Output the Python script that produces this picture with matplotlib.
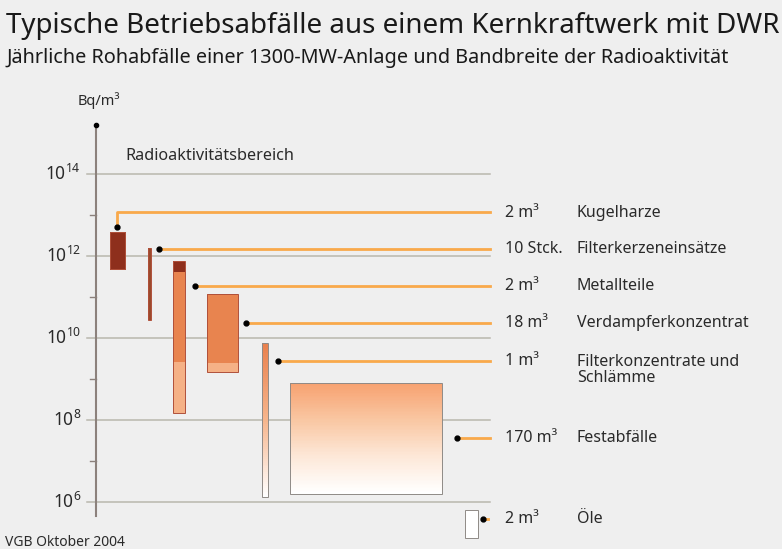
import matplotlib.pyplot as plt
import numpy as np
from matplotlib.colors import LinearSegmentedColormap

plt.rcParams['font.family'] = ['Noto Sans', 'DejaVu Sans']
plt.rcParams['mathtext.default'] = 'regular'

# Daten: Abfallart, jaehrliche Menge, Bandbreite der Radioaktivitaet (Bq/m3)
names = ['Kugelharze', 'Filterkerzeneinsätze', 'Metallteile', 'Verdampferkonzentrat',
         'Filterkonzentrate und\nSchlämme', 'Festabfälle', 'Öle']
amounts = ['2 m³', '10 Stck.', '2 m³', '18 m³', '1 m³', '170 m³', '2 m³']
act_high = [3.9e12, 1.6e12, 7.5e11, 1.2e11, 7.5e9, 7.9e8, 6.4e5]
act_low = [4.8e11, 2.8e10, 1.5e8, 1.5e9, 1.3e6, 1.6e6, 1.3e5]
# Stufen innerhalb der Balken (Metallteile, Verdampferkonzentrat)
metall_steps = [7.5e11, 4.1e11, 2.6e9, 1.5e8]
verdampf_steps = [1.2e11, 2.5e9, 1.5e9]
yticks = [1e6, 1e8, 1e10, 1e12, 1e14]
ytick_labels = ['$10^6$', '$10^8$', '$10^{10}$', '$10^{12}$', '$10^{14}$']

bg = '#efefef'
dark = '#8e2f1c'
orange = '#e8844f'
light = '#f5b186'
lead = '#f9a94b'
grid = '#b9b7ad'
axc = '#8c817c'
txt = '#2a2a2a'

fig = plt.figure(figsize=(7.82, 5.49), dpi=100, facecolor=bg)
ax = fig.add_axes([0, 0, 1, 1])
ax.set_facecolor(bg)
ax.set_yscale('log')
ax.set_xlim(0, 782)
ax.set_ylim(10 ** 4.854, 10 ** 18.244)
ax.axis('off')


def py(p):
    # Pixelzeile -> Wert auf der log-Achse (nur fuer Layout)
    return 10 ** (14 - (p - 174) / 41.0)


# Gitter und Achse
for t, lab in zip(yticks, ytick_labels):
    ax.plot([87, 490], [t, t], color=grid, lw=1.1, zorder=1)
    ax.text(81, t, lab, ha='right', va='center', fontsize=12.5, color=txt)
for t in yticks[:-1]:
    ax.plot([90, 96], [t * 10, t * 10], color=axc, lw=1, zorder=2)
ax.plot([96, 96], [py(516), py(125)], color=axc, lw=1.5, zorder=2)
ax.plot(96, py(125), 'o', color='black', ms=3, zorder=3)
ax.text(78, py(101), 'Bq/m³', fontsize=10.5, color=txt, va='center')
ax.text(125, py(156), 'Radioaktivitätsbereich', fontsize=11.7, color=txt, va='center')

# Layout der Balken (x links, Breite in Pixel)
lefts = [110, 147.5, 173, 207, 262, 290, 465]
widths = [15, 3, 12, 31, 6, 152, 13]
rows = [213, 249, 286, 323, 361, 438, 519]
dots_x = [117, 159, 195, 246, 278, 457, 483]


def gradient_bar(x, w, hi, lo, colors, n=80):
    cmap = LinearSegmentedColormap.from_list('g', colors)
    edges = np.logspace(np.log10(hi), np.log10(lo), n + 1)
    for i in range(n):
        ax.bar(x, edges[i] - edges[i + 1], bottom=edges[i + 1], width=w,
               align='edge', color=cmap(i / (n - 1)), lw=0, zorder=3)


# Kugelharze, Filterkerzeneinsaetze
ax.bar(lefts[0], act_high[0] - act_low[0], bottom=act_low[0], width=widths[0],
       align='edge', color=dark, edgecolor='#7a2616', lw=0.6, zorder=3)
ax.bar(lefts[1], act_high[1] - act_low[1], bottom=act_low[1], width=widths[1],
       align='edge', color='#9b4a2c', lw=0, zorder=3)
# Metallteile
for hi, lo, c in zip(metall_steps[:-1], metall_steps[1:], [dark, orange, light]):
    ax.bar(lefts[2], hi - lo, bottom=lo, width=widths[2], align='edge', color=c, lw=0, zorder=3)
# Verdampferkonzentrat
for hi, lo, c in zip(verdampf_steps[:-1], verdampf_steps[1:], [orange, light]):
    ax.bar(lefts[3], hi - lo, bottom=lo, width=widths[3], align='edge', color=c, lw=0, zorder=3)
# Filterkonzentrate, Festabfaelle
gradient_bar(lefts[4], widths[4], act_high[4], act_low[4], ['#e9814e', '#f6b58c', '#ffffff'])
gradient_bar(lefts[5], widths[5], act_high[5], act_low[5], ['#f7a271', '#f9c7a3', '#fde8d8', '#ffffff'])
# Oele
ax.bar(lefts[6], act_high[6] - act_low[6], bottom=act_low[6], width=widths[6],
       align='edge', color='white', lw=0, zorder=3)
# Umrandungen
for i in range(7):
    ec = '#b0503a' if i < 4 else '#8f8a86'
    ax.bar(lefts[i], act_high[i] - act_low[i], bottom=act_low[i], width=widths[i],
           align='edge', fill=False, edgecolor=ec, lw=0.7, zorder=4)

# Fuehrungslinien, Punkte und Beschriftungen
ax.plot([117, 117, 490], [py(227), py(212), py(212)], color=lead, lw=2, zorder=2)
ax.plot(117, py(227), 'o', color='black', ms=3.5, zorder=5)
for i in range(1, 7):
    y = py(rows[i])
    end = 488 if i == 6 else 490
    ax.plot([dots_x[i], end], [y, y], color=lead, lw=2, zorder=2)
    ax.plot(dots_x[i], y, 'o', color='black', ms=3.5, zorder=5)
for i in range(7):
    y = py(rows[i])
    ax.text(505, y, amounts[i], fontsize=11.5, color=txt, va='center')
    ax.text(577, py(rows[i] + 9) if i == 4 else y, names[i], fontsize=11.5,
            color=txt, va='center', linespacing=0.95)

fig.text(0.008, 0.953, 'Typische Betriebsabfälle aus einem Kernkraftwerk mit DWR',
         fontsize=20, color='#1a1a1a', va='center')
fig.text(0.008, 0.894, 'Jährliche Rohabfälle einer 1300-MW-Anlage und Bandbreite der Radioaktivität',
         fontsize=14.3, color='#1a1a1a', va='center')
fig.text(0.006, 0.012, 'VGB Oktober 2004', fontsize=10, color=txt, va='center')

fig.savefig('out.png', dpi=100, facecolor=bg)
